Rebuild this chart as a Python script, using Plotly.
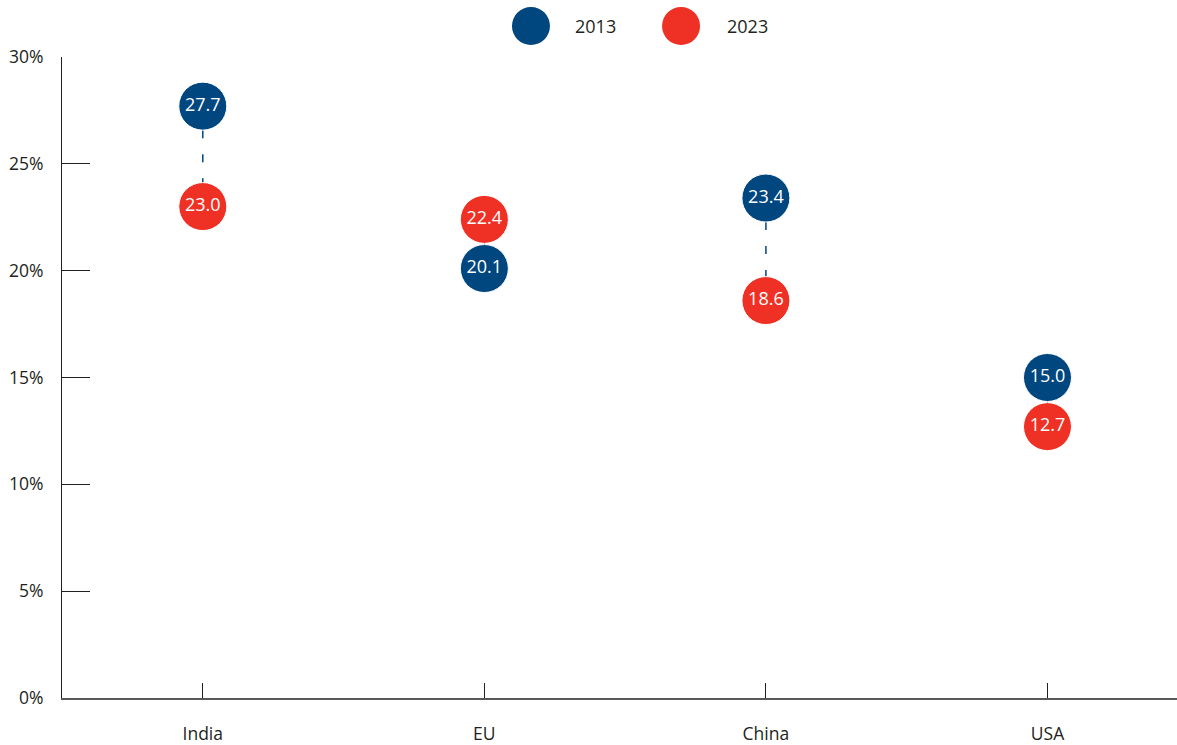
import plotly.graph_objects as go

categories = ["India", "EU", "China", "USA"]
values_2013 = [27.7, 20.1, 23.4, 15.0]
values_2023 = [23.0, 22.4, 18.6, 12.7]
y_ticks = [0, 5, 10, 15, 20, 25, 30]
y_tick_labels = ["0%", "5%", "10%", "15%", "20%", "25%", "30%"]

BLUE = "#00467F"
RED = "#EE3124"
FONT = "Open Sans, Noto Sans, sans-serif"

fig = go.Figure()

# dashed connectors
for i, c in enumerate(categories):
    fig.add_trace(go.Scatter(
        x=[c, c], y=[values_2013[i], values_2023[i]], mode="lines",
        line=dict(color=BLUE, width=1.5, dash="8px,16px"),
        showlegend=False, hoverinfo="skip"))

fig.add_trace(go.Scatter(
    x=categories, y=values_2013, mode="markers+text", name="2013",
    marker=dict(size=48, color=BLUE, line=dict(color="white", width=1)),
    text=[f"{v:.1f}" for v in values_2013], textposition="middle center",
    textfont=dict(color="white", size=18, family=FONT), showlegend=False))
fig.add_trace(go.Scatter(
    x=categories, y=values_2023, mode="markers+text", name="2023",
    marker=dict(size=48, color=RED, line=dict(color="white", width=1)),
    text=[f"{v:.1f}" for v in values_2023], textposition="middle center",
    textfont=dict(color="white", size=18, family=FONT), showlegend=False))

# custom legend
legend_items = [("2013", BLUE, 0.4206, 0.4583), ("2023", RED, 0.5552, 0.5946)]
for label, col, cx, tx in legend_items:
    fig.add_shape(type="circle", xref="paper", yref="paper",
                  xsizemode="pixel", ysizemode="pixel",
                  xanchor=cx, yanchor=1.0484, x0=-19, x1=19, y0=-19, y1=19,
                  fillcolor=col, line=dict(width=0))
    fig.add_annotation(x=tx, y=1.0484, xref="paper", yref="paper",
                       text=label, showarrow=False, xanchor="left", yanchor="middle",
                       font=dict(size=18, color="#231F20", family=FONT))

fig.update_layout(
    width=1177, height=745,
    margin=dict(l=62, r=0, t=57, b=47),
    plot_bgcolor="white", paper_bgcolor="white",
    font=dict(family=FONT, size=17, color="#231F20"),
    showlegend=False,
    xaxis=dict(range=[-0.5, 3.46], showgrid=False, zeroline=False,
               showline=True, linecolor="#58595B", linewidth=2,
               ticks="inside", ticklen=15, tickcolor="#231F20", tickwidth=1,
               ticklabelstandoff=19, tickfont=dict(size=17.5)),
    yaxis=dict(range=[0, 30], tickvals=y_ticks, ticktext=y_tick_labels,
               showgrid=False, zeroline=False,
               showline=True, linecolor="#231F20", linewidth=1,
               ticks="inside", ticklen=28, tickcolor="#231F20", tickwidth=1,
               ticklabelstandoff=14, tickfont=dict(size=17.5)),
)

fig.write_html("out.html", config={"displayModeBar": False},
               post_script="document.body.style.margin='0';")
